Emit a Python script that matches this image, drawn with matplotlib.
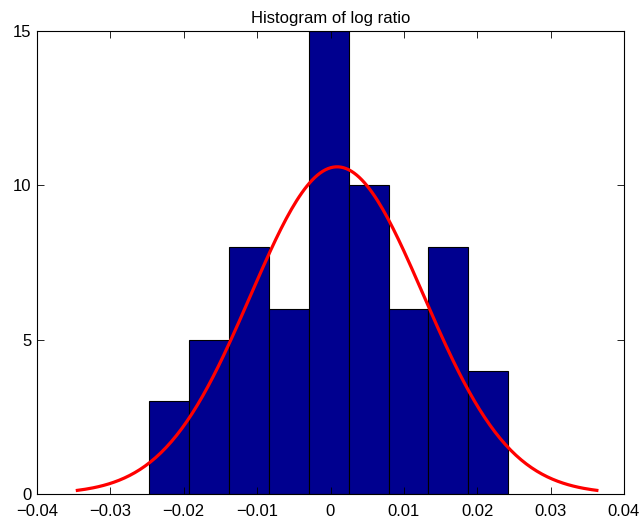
import numpy as np
import matplotlib
matplotlib.use("Agg")
import matplotlib.pyplot as plt

# histogram data
bin_left = -0.02474
bin_width = 0.005442
counts = [3, 5, 8, 6, 15, 10, 6, 8, 4]

# fitted normal curve parameters
mu = 0.0009
sigma = 0.0118
peak = 10.6

plt.rcParams['font.family'] = ['Liberation Sans', 'DejaVu Sans']
plt.rcParams['font.size'] = 12

fig = plt.figure(figsize=(6.4, 5.27), dpi=100)
ax = fig.add_axes([37/640, 1-494/527, (624-37)/640, (494-31)/527])

edges = bin_left + bin_width*np.arange(len(counts))
ax.bar(edges, counts, width=bin_width, align='edge', color=(0, 0, 0.5625),
       edgecolor='black', linewidth=0.8)

xs = np.linspace(mu - 3*sigma, mu + 3*sigma, 200)
ys = peak*np.exp(-(xs - mu)**2/(2*sigma**2))
ax.plot(xs, ys, color='red', linewidth=2.3)

ax.set_xlim(-0.04, 0.04)
ax.set_ylim(0, 15)
ax.set_xticks(np.arange(-0.04, 0.041, 0.01))
ax.set_xticklabels(['\u22120.04', '\u22120.03', '\u22120.02', '\u22120.01', '0',
                    '0.01', '0.02', '0.03', '0.04'])
ax.set_yticks([0, 5, 10, 15])
ax.tick_params(direction='in', top=True, right=True, length=5, width=0.6)
ax.tick_params(axis='x', pad=7)
ax.tick_params(axis='y', pad=4)
for s in ax.spines.values():
    s.set_linewidth(0.8)
ax.set_title('Histogram of log ratio', fontsize=12, pad=6)

fig.savefig('out.png', dpi=100)
